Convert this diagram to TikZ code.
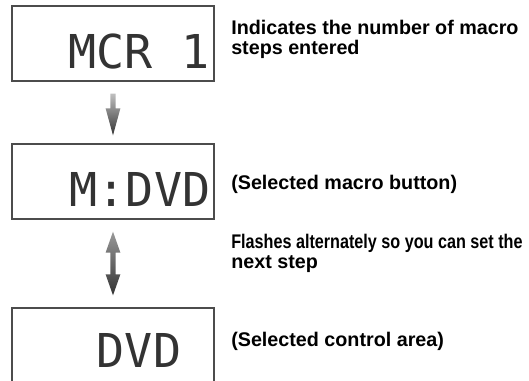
\documentclass[tikz,border=0pt]{standalone}
\usepackage{fontspec}
\setmainfont{Liberation Sans}
\newfontfamily\lcdfont{DejaVu Sans Mono}
\newfontfamily\narrowsans{Liberation Sans}[FakeStretch=0.82]
\usetikzlibrary{calc}

\tikzset{
  lcdbox/.style={draw=black!70, line width=1pt, fill=white, minimum width=151.5pt, minimum height=56.25pt, inner sep=0pt},
  lcdtext/.style={font=\lcdfont\fontsize{35}{35}\selectfont, text=black!80, inner sep=0pt, anchor=base},
  note/.style={font=\bfseries\fontsize{14.8}{15}\selectfont, align=left, inner sep=0pt, anchor=base west},
  fatarrow/.style={top color=black!25, bottom color=black!80},
  flasharrow/.style={top color=black!40, bottom color=black!80},
}

\begin{document}
\begin{tikzpicture}[x=0.75pt, y=-0.75pt]
  \useasboundingbox (0,0) rectangle (529,380);
  \clip (0,0) rectangle (529,380);

  % displays
  \node[lcdbox] (mcr)  at (113,43.5)  {};
  \node[lcdbox] (mdvd) at (113,181.5) {};
  \node[lcdbox] (dvd)  at (113,345.5) {};
  \node[lcdtext] (mcrtxt)  at (139,68)  {MCR 1};
  \node[lcdtext] (mdvdtxt) at (140,206) {M:DVD};
  \node[lcdtext] (dvdtxt)  at (139,367) {DVD};

  % notes (base west = baseline of the last line)
  \node[note] (stepsnote) at (231,54)  {Indicates the number of macro\\steps entered};
  \node[note] (btnnote)   at (231,189) {(Selected macro button)};
  \node[note] (flashnote) at (231,268) {{\narrowsans Flashes alternately so you can set the}\\next step};
  \node[note] (areanote)  at (231,346) {(Selected control area)};

  % arrows
  \coordinate (a1top) at ($(mcr.south)+(0,12)$);
  \coordinate (a1tip) at ($(mdvd.north)+(0,-8)$);
  \shade[fatarrow] ($(a1top)+(-2.7,0)$) -- ($(a1top)+(2.7,0)$)
    -- ($(a1tip)+(2.7,-27)$) -- ($(a1tip)+(7.4,-27)$) -- (a1tip)
    -- ($(a1tip)+(-7.4,-27)$) -- ($(a1tip)+(-2.7,-27)$) -- cycle;

  \coordinate (a2top) at ($(mdvd.south)+(0,12)$);
  \coordinate (a2tip) at ($(dvd.north)+(0,-12)$);
  \shade[flasharrow] (a2top) -- ($(a2top)+(7.4,21)$) -- ($(a2top)+(2.7,21)$)
    -- ($(a2tip)+(2.7,-21)$) -- ($(a2tip)+(7.4,-21)$) -- (a2tip)
    -- ($(a2tip)+(-7.4,-21)$) -- ($(a2tip)+(-2.7,-21)$)
    -- ($(a2top)+(-2.7,21)$) -- ($(a2top)+(-7.4,21)$) -- cycle;
\end{tikzpicture}
\end{document}
